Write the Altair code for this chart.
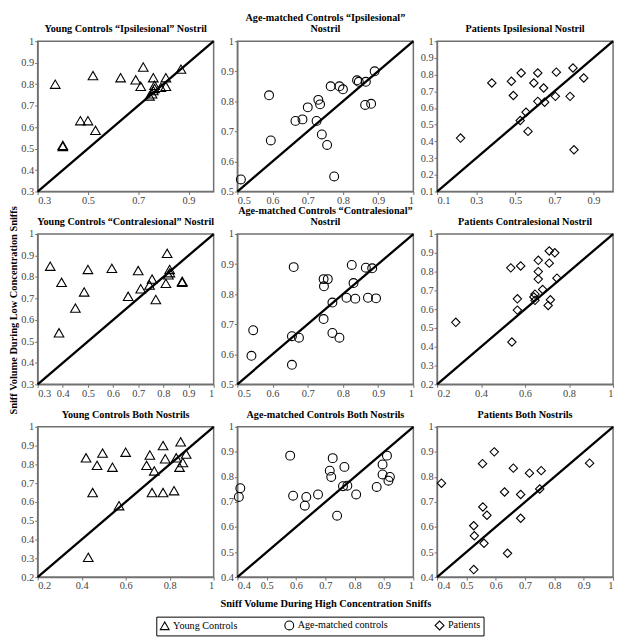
import altair as alt
import pandas as pd

GROUPS = ["Young Controls", "Age-matched controls", "Patients"]
SHAPES = ["triangle-up", "circle", "diamond"]
SIZES = [95, 80, 72]

# ---- data (high concentration = x, low concentration = y) ----
yc_ipsi_x = [0.37, 0.52, 0.63, 0.72, 0.69, 0.71, 0.76, 0.81, 0.87, 0.765, 0.81, 0.745, 0.755, 0.76, 0.765, 0.79, 0.47, 0.50, 0.53, 0.40, 0.40]
yc_ipsi_y = [0.80, 0.84, 0.83, 0.88, 0.82, 0.79, 0.83, 0.83, 0.87, 0.795, 0.79, 0.745, 0.755, 0.77, 0.78, 0.785, 0.63, 0.63, 0.585, 0.51, 0.515]

am_ipsi_x = [0.51, 0.59, 0.595, 0.665, 0.685, 0.70, 0.73, 0.735, 0.725, 0.74, 0.755, 0.775, 0.765, 0.79, 0.80, 0.84, 0.845, 0.865, 0.89, 0.863, 0.88]
am_ipsi_y = [0.54, 0.82, 0.67, 0.735, 0.74, 0.78, 0.805, 0.79, 0.735, 0.69, 0.655, 0.55, 0.85, 0.85, 0.84, 0.87, 0.865, 0.865, 0.90, 0.788, 0.792]

pt_ipsi_x = [0.22, 0.38, 0.48, 0.53, 0.49, 0.595, 0.615, 0.645, 0.615, 0.65, 0.71, 0.705, 0.795, 0.85, 0.78, 0.80, 0.555, 0.525, 0.565]
pt_ipsi_y = [0.42, 0.75, 0.76, 0.81, 0.675, 0.75, 0.81, 0.72, 0.64, 0.635, 0.815, 0.67, 0.84, 0.78, 0.67, 0.35, 0.575, 0.525, 0.46]

yc_contra_x = [0.35, 0.395, 0.385, 0.45, 0.485, 0.50, 0.595, 0.66, 0.70, 0.71, 0.755, 0.745, 0.77, 0.81, 0.815, 0.825, 0.826, 0.82, 0.875, 0.875]
yc_contra_y = [0.85, 0.775, 0.54, 0.655, 0.73, 0.835, 0.84, 0.71, 0.83, 0.745, 0.79, 0.762, 0.695, 0.77, 0.91, 0.835, 0.82, 0.81, 0.78, 0.775]

am_contra_x = [0.54, 0.545, 0.655, 0.655, 0.675, 0.66, 0.745, 0.757, 0.746, 0.77, 0.745, 0.77, 0.79, 0.81, 0.835, 0.83, 0.825, 0.865, 0.883, 0.871, 0.894]
am_contra_y = [0.595, 0.68, 0.565, 0.66, 0.655, 0.89, 0.85, 0.85, 0.826, 0.772, 0.717, 0.671, 0.655, 0.788, 0.785, 0.837, 0.897, 0.888, 0.886, 0.788, 0.786]

pt_contra_x = [0.285, 0.535, 0.58, 0.54, 0.565, 0.565, 0.645, 0.64, 0.645, 0.66, 0.66, 0.66, 0.68, 0.71, 0.735, 0.71, 0.745, 0.715, 0.705]
pt_contra_y = [0.53, 0.82, 0.83, 0.425, 0.655, 0.595, 0.68, 0.665, 0.647, 0.86, 0.80, 0.76, 0.705, 0.91, 0.90, 0.845, 0.765, 0.65, 0.62]

yc_both_x = [0.42, 0.495, 0.47, 0.54, 0.60, 0.45, 0.57, 0.43, 0.71, 0.695, 0.73, 0.77, 0.78, 0.72, 0.77, 0.82, 0.83, 0.85, 0.875, 0.86, 0.845]
yc_both_y = [0.835, 0.86, 0.795, 0.785, 0.865, 0.65, 0.58, 0.305, 0.85, 0.795, 0.765, 0.90, 0.83, 0.65, 0.65, 0.66, 0.835, 0.92, 0.855, 0.81, 0.785]

am_both_x = [0.41, 0.405, 0.58, 0.59, 0.63, 0.635, 0.675, 0.725, 0.715, 0.72, 0.765, 0.74, 0.76, 0.775, 0.805, 0.875, 0.895, 0.895, 0.91, 0.915, 0.92]
am_both_y = [0.755, 0.72, 0.885, 0.725, 0.685, 0.72, 0.73, 0.875, 0.825, 0.80, 0.84, 0.645, 0.763, 0.765, 0.73, 0.76, 0.81, 0.85, 0.885, 0.785, 0.80]

pt_both_x = [0.415, 0.525, 0.527, 0.525, 0.555, 0.556, 0.57, 0.56, 0.595, 0.63, 0.64, 0.66, 0.685, 0.685, 0.715, 0.755, 0.75, 0.92]
pt_both_y = [0.775, 0.605, 0.565, 0.43, 0.853, 0.68, 0.647, 0.535, 0.90, 0.74, 0.495, 0.835, 0.73, 0.635, 0.815, 0.825, 0.752, 0.855]

# axis ranges and tick labels per panel
ticks_03_step02 = [0.3, 0.5, 0.7, 0.9]
ticks_03 = [0.3, 0.4, 0.5, 0.6, 0.7, 0.8, 0.9, 1.0]
ticks_05 = [0.5, 0.6, 0.7, 0.8, 0.9, 1.0]
ticks_01_step02 = [0.1, 0.3, 0.5, 0.7, 0.9]
ticks_01 = [0.1, 0.2, 0.3, 0.4, 0.5, 0.6, 0.7, 0.8, 0.9, 1.0]
ticks_02_step02 = [0.2, 0.4, 0.6, 0.8, 1.0]
ticks_02 = [0.2, 0.3, 0.4, 0.5, 0.6, 0.7, 0.8, 0.9, 1.0]
ticks_04 = [0.4, 0.5, 0.6, 0.7, 0.8, 0.9, 1.0]

TITLES = [
    "Young Controls \u201cIpsilesional\u201d Nostril",
    ["Age-matched Controls \u201cIpsilesional\u201d", "Nostril"],
    "Patients Ipsilesional Nostril",
    "Young Controls \u201cContralesional\u201d Nostril",
    ["Age-matched Controls \u201cContralesional\u201d", "Nostril"],
    "Patients Contralesional Nostril",
    "Young Controls Both Nostrils",
    "Age-matched Controls Both Nostrils",
    "Patients Both Nostrils",
]

Y_TITLE = "Sniff Volume During Low Concentration Sniffs"
X_TITLE = "Sniff Volume During High Concentration Sniffs"

panels_def = [
    (0, yc_ipsi_x, yc_ipsi_y, 0.3, ticks_03_step02, ticks_03),
    (1, am_ipsi_x, am_ipsi_y, 0.5, ticks_05, ticks_05),
    (2, pt_ipsi_x, pt_ipsi_y, 0.1, ticks_01_step02, ticks_01),
    (0, yc_contra_x, yc_contra_y, 0.3, ticks_03, ticks_03),
    (1, am_contra_x, am_contra_y, 0.5, ticks_05, ticks_05),
    (2, pt_contra_x, pt_contra_y, 0.2, ticks_02_step02, ticks_02),
    (0, yc_both_x, yc_both_y, 0.2, ticks_02_step02, ticks_02),
    (1, am_both_x, am_both_y, 0.4, ticks_04, ticks_04),
    (2, pt_both_x, pt_both_y, 0.4, ticks_04, ticks_04),
]

W, H = 178, 152
FONT = "Liberation Serif"

legend = alt.Legend(title=None, orient="none", legendX=120, legendY=582,
                    direction="horizontal", columnPadding=44,
                    strokeColor="black", padding=3, labelOffset=3,
                    symbolSize=80, symbolStrokeWidth=1.1,
                    symbolStrokeColor="black", symbolFillColor="transparent",
                    labelFont=FONT, labelFontSize=10.3, labelColor="black")

charts = []
for i, (g, xs, ys, lo, xt, yt) in enumerate(panels_def):
    df = pd.DataFrame({"x": xs, "y": ys, "group": [GROUPS[g]] * len(xs)})
    diag = pd.DataFrame({"x": [lo, 1.0], "y": [lo, 1.0]})
    xscale = alt.Scale(domain=[lo, 1.0], nice=False, zero=False)
    yscale = alt.Scale(domain=[lo, 1.0], nice=False, zero=False)
    if i == 7:
        xaxis = alt.Axis(values=xt, format=".1~f", title=X_TITLE, titlePadding=7,
                         titleFont=FONT, titleFontSize=10.5, titleFontWeight="bold", titleColor="black")
    else:
        xaxis = alt.Axis(values=xt, format=".1~f", title=None)
    yaxis = alt.Axis(values=yt, format=".1~f", title=None)

    line = alt.Chart(diag).mark_line(color="black", strokeWidth=2.3).encode(
        x=alt.X("x:Q", scale=xscale, axis=xaxis),
        y=alt.Y("y:Q", scale=yscale, axis=yaxis),
    )
    pts = alt.Chart(df).mark_point(filled=False, color="black", strokeWidth=1.1, opacity=1,
                                   size=SIZES[g]).encode(
        x=alt.X("x:Q", scale=xscale, axis=xaxis),
        y=alt.Y("y:Q", scale=yscale, axis=yaxis),
        shape=alt.Shape("group:N", scale=alt.Scale(domain=GROUPS, range=SHAPES), legend=legend),
    )
    charts.append(alt.layer(line, pts).properties(
        width=W, height=H, title=alt.TitleParams(TITLES[i], frame="group")))

chart = alt.concat(*charts, columns=3, spacing={"row": 43, "column": 24}, bounds="flush").properties(
    padding=0,
    title=alt.TitleParams(Y_TITLE, orient="left", anchor="middle", frame="bounds", offset=1, dx=14,
                          fontSize=10.5, font=FONT, fontWeight="bold", color="black"),
).configure_view(
    stroke="#707070", strokeWidth=1.5
).configure_axis(
    grid=False, labelFont=FONT, labelFontSize=10.5, labelColor="#444444",
    tickColor="#707070", tickSize=3, labelPadding=1, domainColor="#707070", domainWidth=1.2,
).configure_title(
    font=FONT, fontSize=10.3, fontWeight="bold", color="black", anchor="middle", offset=2, lineHeight=11,
)

chart.save("out.html", embed_options={"renderer": "svg", "actions": False})
